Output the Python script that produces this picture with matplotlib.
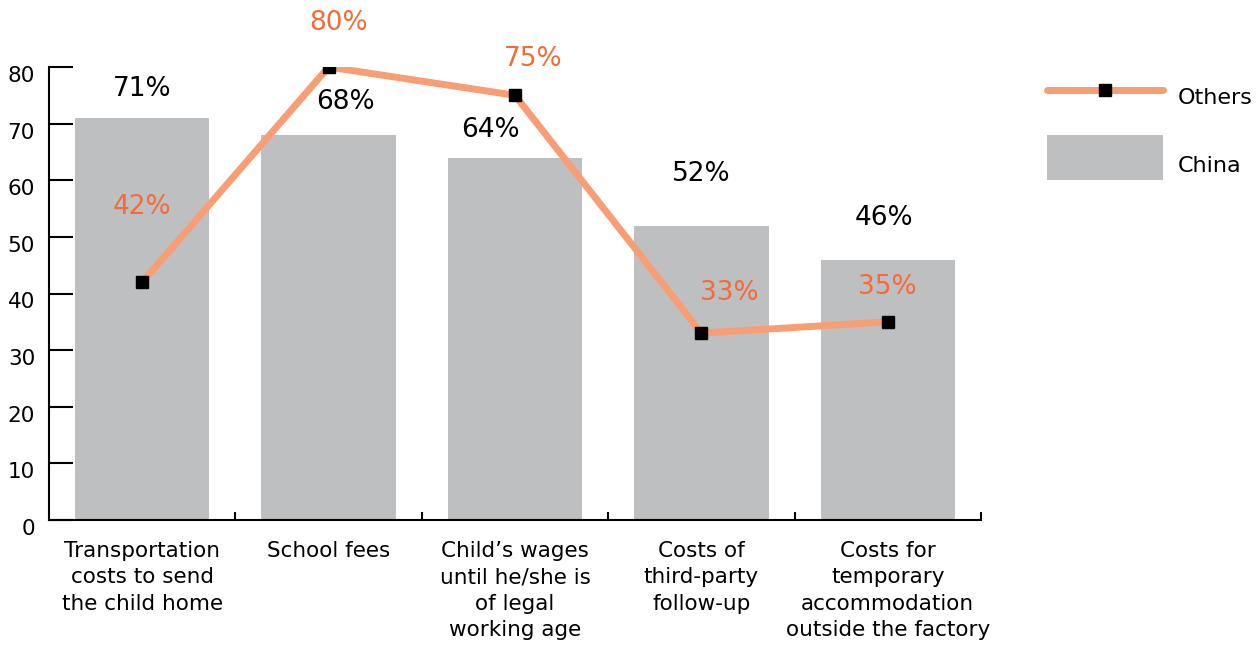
import matplotlib
matplotlib.use("Agg")
import matplotlib.pyplot as plt
from matplotlib.lines import Line2D
from matplotlib.patches import Rectangle
from matplotlib.transforms import ScaledTranslation

categories = [
    "Transportation\ncosts to send\nthe child home",
    "School fees",
    "Child\u2019s wages\nuntil he/she is\nof legal\nworking age",
    "Costs of\nthird-party\nfollow-up",
    "Costs for\ntemporary\naccommodation\noutside the factory",
]
china = [71, 68, 64, 52, 46]
others = [42, 80, 75, 33, 35]
yticks = [0, 10, 20, 30, 40, 50, 60, 70, 80]
series_names = ["Others", "China"]

# label offsets in points (dx, dy)
china_off = [(0, 21), (12, 24), (-18, 20), (0, 37), (-3, 30)]
others_off = [(0, 54), (7, 32), (13, 26), (20, 29), (0, 25)]

FONT = "DejaVu Sans"
plt.rcParams["font.family"] = [FONT]

BAR = "#BEBFC1"
LINE = "#F79E75"
LBL = "#F26B38"

W, H = 1257, 645
fig = plt.figure(figsize=(W / 100, H / 100), dpi=100)
ax = fig.add_axes([49 / W, 1 - 520 / H, 932 / W, 453 / H])

x = list(range(len(categories)))
ax.bar(x, china, width=0.72, color=BAR, zorder=1)
ax.plot(x, others, color=LINE, lw=5, zorder=2, solid_capstyle="round")
ax.plot(x, others, ls="none", marker="s", ms=9, mfc="black", mec="black", zorder=3)

for i, v in enumerate(china):
    ax.annotate(f"{v}%", (i, v), xytext=china_off[i], textcoords="offset points",
                ha="center", va="center", fontsize=19, color="black",
                annotation_clip=False)
for i, v in enumerate(others):
    ax.annotate(f"{v}%", (i, v), xytext=others_off[i], textcoords="offset points",
                ha="center", va="center", fontsize=19, color=LBL,
                annotation_clip=False)

ax.set_xlim(-0.5, len(categories) - 0.5)
ax.set_ylim(0, 80)
ax.set_yticks(yticks)
ax.set_yticklabels([str(t) for t in yticks])
ax.tick_params(axis="y", direction="in", length=17, width=1.5, pad=10, labelsize=15.5)
shift = ScaledTranslation(0, -7 / 100, fig.dpi_scale_trans)
for lbl in ax.get_yticklabels():
    lbl.set_transform(lbl.get_transform() + shift)

ax.set_xticks(x)
ax.set_xticklabels(categories, fontsize=15.5, linespacing=1.4)
ax.tick_params(axis="x", which="major", length=0, pad=15)
ax.set_xticks([i + 0.5 for i in x], minor=True)
ax.tick_params(axis="x", which="minor", direction="in", length=6, width=1.5)

for s in ["top", "right"]:
    ax.spines[s].set_visible(False)
for s in ["left", "bottom"]:
    ax.spines[s].set_linewidth(1.5)

# legend drawn in figure pixel coordinates
def fx(px):
    return px / W

def fy(py):
    return 1 - py / H

fig.add_artist(Line2D([fx(1047), fx(1163)], [fy(90), fy(90)], color=LINE, lw=5,
                      solid_capstyle="round", transform=fig.transFigure))
fig.add_artist(Line2D([fx(1105)], [fy(90)], ls="none", marker="s", ms=9,
                      mfc="black", mec="black", transform=fig.transFigure))
fig.add_artist(Rectangle((fx(1047), fy(180)), fx(1163) - fx(1047), fy(135) - fy(180),
                         facecolor=BAR, edgecolor="none", transform=fig.transFigure))
fig.text(fx(1178), fy(98), series_names[0], fontsize=16, va="center", ha="left")
fig.text(fx(1178), fy(166), series_names[1], fontsize=16, va="center", ha="left")

fig.savefig("out.png", dpi=100)
